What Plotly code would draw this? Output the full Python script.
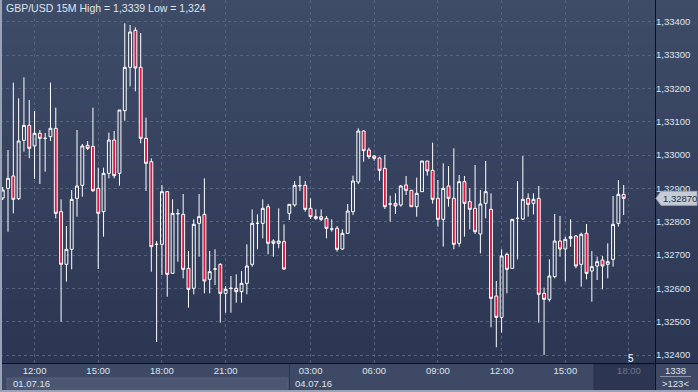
import plotly.graph_objects as go

# ---------------- data ----------------
title_text = "GBP/USD 15M High = 1,3339 Low = 1,324"

opens = [1.32871, 1.32900, 1.32937, 1.32869, 1.33044, 1.33089, 1.33027, 1.33065, 1.33050, 1.33055,
         1.33080, 1.32830, 1.32672, 1.32717, 1.32870, 1.32909, 1.33029, 1.33026, 1.32900, 1.32830,
         1.32945, 1.33045, 1.32945, 1.33133, 1.33263, 1.33374, 1.33263, 1.33050, 1.32980, 1.32732,
         1.32732, 1.32890, 1.32645, 1.32824, 1.32822, 1.32660, 1.32600, 1.32795, 1.32822, 1.32627,
         1.32658, 1.32672, 1.32585, 1.32600, 1.32600, 1.32590, 1.32615, 1.32672, 1.32795, 1.32795,
         1.32845, 1.32742, 1.32735, 1.32740, 1.32825, 1.32850, 1.32908, 1.32909, 1.32840, 1.32815,
         1.32815, 1.32810, 1.32778, 1.32780, 1.32718, 1.32765, 1.32830, 1.32919, 1.33072, 1.33015,
         1.32997, 1.32991, 1.32960, 1.32853, 1.32855, 1.32850, 1.32910, 1.32894, 1.32845, 1.32890,
         1.32982, 1.32954, 1.32870, 1.32807, 1.32907, 1.32870, 1.32735, 1.32920, 1.32860, 1.32840,
         1.32763, 1.32855, 1.32837, 1.32577, 1.32513, 1.32702, 1.32660, 1.32810, 1.32808, 1.32870,
         1.32855, 1.32870, 1.32585, 1.32567, 1.32635, 1.32742, 1.32718, 1.32750, 1.32757, 1.32672,
         1.32765, 1.32652, 1.32667, 1.32685, 1.32672, 1.32687, 1.32795, 1.32882]
highs = [1.32904, 1.33015, 1.33217, 1.33170, 1.33233, 1.33165, 1.33132, 1.33075, 1.33066, 1.33217,
         1.33142, 1.32867, 1.32787, 1.32895, 1.33075, 1.33033, 1.33042, 1.33142, 1.32962, 1.32962,
         1.33067, 1.33072, 1.33135, 1.33395, 1.33390, 1.33383, 1.33366, 1.33112, 1.32990, 1.32742,
         1.32910, 1.32892, 1.32867, 1.32838, 1.32883, 1.32712, 1.32807, 1.32883, 1.32930, 1.32712,
         1.32717, 1.32675, 1.32607, 1.32637, 1.32642, 1.32652, 1.32732, 1.32837, 1.32822, 1.32867,
         1.32853, 1.32747, 1.32840, 1.32792, 1.32852, 1.32922, 1.32937, 1.32922, 1.32870, 1.32837,
         1.32837, 1.32817, 1.32807, 1.32787, 1.32777, 1.32853, 1.32938, 1.33080, 1.33075, 1.33022,
         1.33000, 1.32995, 1.33000, 1.32878, 1.32885, 1.32910, 1.32937, 1.32894, 1.32932, 1.32982,
         1.32982, 1.33037, 1.32925, 1.32975, 1.32967, 1.33020, 1.32940, 1.32937, 1.32900, 1.32970,
         1.32895, 1.32982, 1.32885, 1.32622, 1.32717, 1.32707, 1.32807, 1.32922, 1.32997, 1.32885,
         1.32885, 1.32907, 1.32602, 1.32687, 1.32823, 1.32817, 1.32755, 1.32807, 1.32760, 1.32767,
         1.32793, 1.32712, 1.32695, 1.32697, 1.32735, 1.32877, 1.32925, 1.32910]
lows = [1.32865, 1.32770, 1.32825, 1.32865, 1.33010, 1.32990, 1.32928, 1.32913, 1.32950, 1.33042,
        1.32810, 1.32500, 1.32620, 1.32657, 1.32815, 1.32875, 1.33015, 1.32889, 1.32658, 1.32755,
        1.32930, 1.32930, 1.32908, 1.33103, 1.33206, 1.33191, 1.33035, 1.32892, 1.32650, 1.32439,
        1.32640, 1.32575, 1.32643, 1.32680, 1.32630, 1.32542, 1.32582, 1.32695, 1.32585, 1.32585,
        1.32610, 1.32497, 1.32527, 1.32527, 1.32557, 1.32557, 1.32582, 1.32665, 1.32717, 1.32750,
        1.32702, 1.32695, 1.32720, 1.32655, 1.32805, 1.32845, 1.32892, 1.32830, 1.32808, 1.32805,
        1.32802, 1.32750, 1.32770, 1.32710, 1.32715, 1.32763, 1.32820, 1.32913, 1.32980, 1.32988,
        1.32983, 1.32923, 1.32838, 1.32800, 1.32823, 1.32845, 1.32880, 1.32845, 1.32815, 1.32890,
        1.32938, 1.32854, 1.32785, 1.32725, 1.32845, 1.32717, 1.32725, 1.32755, 1.32777, 1.32763,
        1.32705, 1.32810, 1.32483, 1.32423, 1.32467, 1.32585, 1.32660, 1.32687, 1.32805, 1.32815,
        1.32822, 1.32497, 1.32400, 1.32560, 1.32630, 1.32695, 1.32620, 1.32725, 1.32660, 1.32605,
        1.32627, 1.32560, 1.32625, 1.32597, 1.32630, 1.32665, 1.32785, 1.32820]
closes = [1.32895, 1.32930, 1.32867, 1.33042, 1.33089, 1.33020, 1.33065, 1.33050, 1.33050, 1.33080,
          1.32825, 1.32672, 1.32717, 1.32867, 1.32907, 1.33027, 1.33020, 1.32893, 1.32825, 1.32945,
          1.33045, 1.32938, 1.33135, 1.33263, 1.33369, 1.33261, 1.33050, 1.32975, 1.32725, 1.32732,
          1.32890, 1.32642, 1.32825, 1.32824, 1.32657, 1.32597, 1.32792, 1.32815, 1.32622, 1.32650,
          1.32658, 1.32585, 1.32597, 1.32600, 1.32590, 1.32615, 1.32667, 1.32795, 1.32795, 1.32840,
          1.32735, 1.32735, 1.32742, 1.32658, 1.32852, 1.32909, 1.32908, 1.32837, 1.32815, 1.32810,
          1.32807, 1.32780, 1.32778, 1.32717, 1.32765, 1.32832, 1.32922, 1.33072, 1.33013, 1.32995,
          1.32990, 1.32954, 1.32845, 1.32853, 1.32847, 1.32907, 1.32894, 1.32845, 1.32885, 1.32982,
          1.32952, 1.32867, 1.32807, 1.32900, 1.32870, 1.32732, 1.32920, 1.32855, 1.32837, 1.32770,
          1.32853, 1.32890, 1.32570, 1.32513, 1.32697, 1.32657, 1.32807, 1.32810, 1.32867, 1.32852,
          1.32867, 1.32582, 1.32567, 1.32637, 1.32742, 1.32718, 1.32747, 1.32755, 1.32667, 1.32762,
          1.32645, 1.32665, 1.32680, 1.32667, 1.32680, 1.32792, 1.32882, 1.32870]

candle_index = list(range(1, len(opens) + 1))

time_tick_pos = [7, 19, 31, 43, 59, 71, 83, 95, 107, 119]
time_tick_labels = ["12:00", "15:00", "18:00", "21:00", "03:00",
                    "06:00", "09:00", "12:00", "15:00", "18:00"]
price_ticks = [1.324, 1.325, 1.326, 1.327, 1.328, 1.329,
               1.330, 1.331, 1.332, 1.333, 1.334]
date_labels = ["01.07.16", "04.07.16"]
counter_top = "1338"
counter_bottom = ">123<"
corner_number = "5"

# ---------------- geometry helpers (pixels -> paper) ----------------
W, H = 698, 392
ML, MR, MT, MB = 0, 43, 0, 29
PW, PH = W - ML - MR, H - MT - MB


def px(x):
    return (x - ML) / PW


def py(y):
    return 1 - (y - MT) / PH


FONT = "Liberation Sans, Arial, sans-serif"
TXT = "#dfe5ef"

fig = go.Figure()

fig.add_trace(go.Candlestick(
    x=candle_index, open=opens, high=highs, low=lows, close=closes,
    increasing=dict(line=dict(color="#ffffff", width=1), fillcolor="rgba(0,0,0,0)"),
    decreasing=dict(line=dict(color="#ffffff", width=1), fillcolor="#e0173d"),
    whiskerwidth=0, showlegend=False, hoverinfo="skip",
))

shapes = []
# vertical gradient background (plot + right axis panel)
top_rgb = (63, 76, 104)
bot_rgb = (43, 54, 83)
nb = 40
for i in range(nb):
    t = i / (nb - 1)
    c = tuple(round(top_rgb[k] + (bot_rgb[k] - top_rgb[k]) * t) for k in range(3))
    y0 = PH * i / nb
    y1 = PH * (i + 1) / nb + 0.6
    shapes.append(dict(type="rect", xref="paper", yref="paper", layer="below",
                       x0=px(0), x1=px(W), y0=py(y1), y1=py(y0),
                       fillcolor="rgb(%d,%d,%d)" % c, line=dict(width=0)))
# bottom time-axis band
shapes.append(dict(type="rect", xref="paper", yref="paper", layer="below",
                   x0=px(0), x1=px(W), y0=py(H), y1=py(363),
                   fillcolor="#3d4965", line=dict(width=0)))
# date band for 01.07.16
shapes.append(dict(type="rect", xref="paper", yref="paper", layer="below",
                   x0=px(7), x1=px(288), y0=py(389), y1=py(378),
                   fillcolor="#4b5672", line=dict(color="#56617b", width=1)))
# separator at day change
shapes.append(dict(type="line", xref="paper", yref="paper", layer="below",
                   x0=px(289.5), x1=px(289.5), y0=py(392), y1=py(363),
                   line=dict(color="#2c354c", width=1)))
# future (18:00) dark box
shapes.append(dict(type="rect", xref="paper", yref="paper", layer="below",
                   x0=px(594), x1=px(654), y0=py(390), y1=py(364),
                   fillcolor="#2c3652", line=dict(color="#27304a", width=1)))
# black frame lines
shapes.append(dict(type="line", xref="paper", yref="paper", layer="above",
                   x0=px(0), x1=px(W), y0=py(363.5), y1=py(363.5),
                   line=dict(color="#0d1018", width=1)))
shapes.append(dict(type="line", xref="paper", yref="paper", layer="above",
                   x0=px(655.5), x1=px(655.5), y0=py(H), y1=py(0),
                   line=dict(color="#0d1018", width=1)))
# counter underline
shapes.append(dict(type="line", xref="paper", yref="paper", layer="above",
                   x0=px(660), x1=px(691), y0=py(376.5), y1=py(376.5),
                   line=dict(color="#8a93a8", width=1)))
# outer light border (left & bottom)
shapes.append(dict(type="line", xref="paper", yref="paper", layer="above",
                   x0=px(1), x1=px(1), y0=py(H), y1=py(0),
                   line=dict(color="#9aa3b6", width=2)))
shapes.append(dict(type="line", xref="paper", yref="paper", layer="above",
                   x0=px(0), x1=px(W), y0=py(391), y1=py(391),
                   line=dict(color="#9aa3b6", width=2)))
# last-price tag
shapes.append(dict(type="path", xref="paper", yref="y", layer="above",
                   xsizemode="pixel", ysizemode="pixel",
                   xanchor=px(655), yanchor=closes[-1],
                   path="M 1,0 L 6,-7 L 42,-7 L 42,7 L 6,7 Z",
                   fillcolor="#c6ccd6", line=dict(color="#9ea6b5", width=1)))

annotations = [
    dict(text=title_text, xref="paper", yref="paper", x=px(4), y=py(8.5),
         xanchor="left", yanchor="middle", showarrow=False,
         font=dict(family=FONT, size=10.5, color=TXT)),
    dict(text=date_labels[0], xref="paper", yref="paper", x=px(11), y=py(383.5),
         xanchor="left", yanchor="middle", showarrow=False,
         font=dict(family=FONT, size=9.5, color=TXT)),
    dict(text=date_labels[1], xref="paper", yref="paper", x=px(293), y=py(383.5),
         xanchor="left", yanchor="middle", showarrow=False,
         font=dict(family=FONT, size=9.5, color=TXT)),
    dict(text=("%.5f" % closes[-1]).replace(".", ","), xref="paper", yref="y",
         x=px(661), y=closes[-1], xanchor="left", yanchor="middle", showarrow=False,
         font=dict(family=FONT, size=9.5, color="#232c44")),
    dict(text=counter_top, xref="paper", yref="paper", x=px(676), y=py(370),
         xanchor="center", yanchor="middle", showarrow=False,
         font=dict(family=FONT, size=9.5, color=TXT)),
    dict(text=counter_bottom, xref="paper", yref="paper", x=px(676), y=py(383.5),
         xanchor="center", yanchor="middle", showarrow=False,
         font=dict(family=FONT, size=9.5, color=TXT)),
    dict(text=corner_number, xref="paper", yref="paper", x=px(631), y=py(358),
         xanchor="center", yanchor="middle", showarrow=False,
         font=dict(family=FONT, size=10, color="#ffffff")),
]

tick_text = [t if p < 118 else '<span style="color:#6c7790">%s</span>' % t
             for p, t in zip(time_tick_pos, time_tick_labels)]

fig.update_layout(
    width=W, height=H, autosize=False,
    margin=dict(l=ML, r=MR, t=MT, b=MB, pad=0),
    paper_bgcolor="#3d4965", plot_bgcolor="rgba(0,0,0,0)",
    separators=",.",
    boxgap=0.22, boxgroupgap=0.3,
    shapes=shapes, annotations=annotations,
    showlegend=False,
    xaxis=dict(range=[0.49, 123.9], rangeslider=dict(visible=False),
               tickmode="array", tickvals=time_tick_pos, ticktext=tick_text,
               showgrid=True, gridcolor="#56627e", griddash="dot", gridwidth=1,
               zeroline=False, showline=False, ticks="",
               tickfont=dict(family=FONT, size=9.5, color=TXT), fixedrange=True),
    yaxis=dict(range=[1.32376, 1.33465], side="right",
               tickmode="array", tickvals=price_ticks, tickformat=".5f",
               showgrid=True, gridcolor="#56627e", griddash="dot", gridwidth=1,
               zeroline=False, showline=False, ticks="",
               tickfont=dict(family=FONT, size=9.5, color=TXT), fixedrange=True),
)

fig.write_html("out.html", config={"displayModeBar": False},
               post_script="document.body.style.margin='0px';"
                           "document.body.style.overflow='hidden';")
